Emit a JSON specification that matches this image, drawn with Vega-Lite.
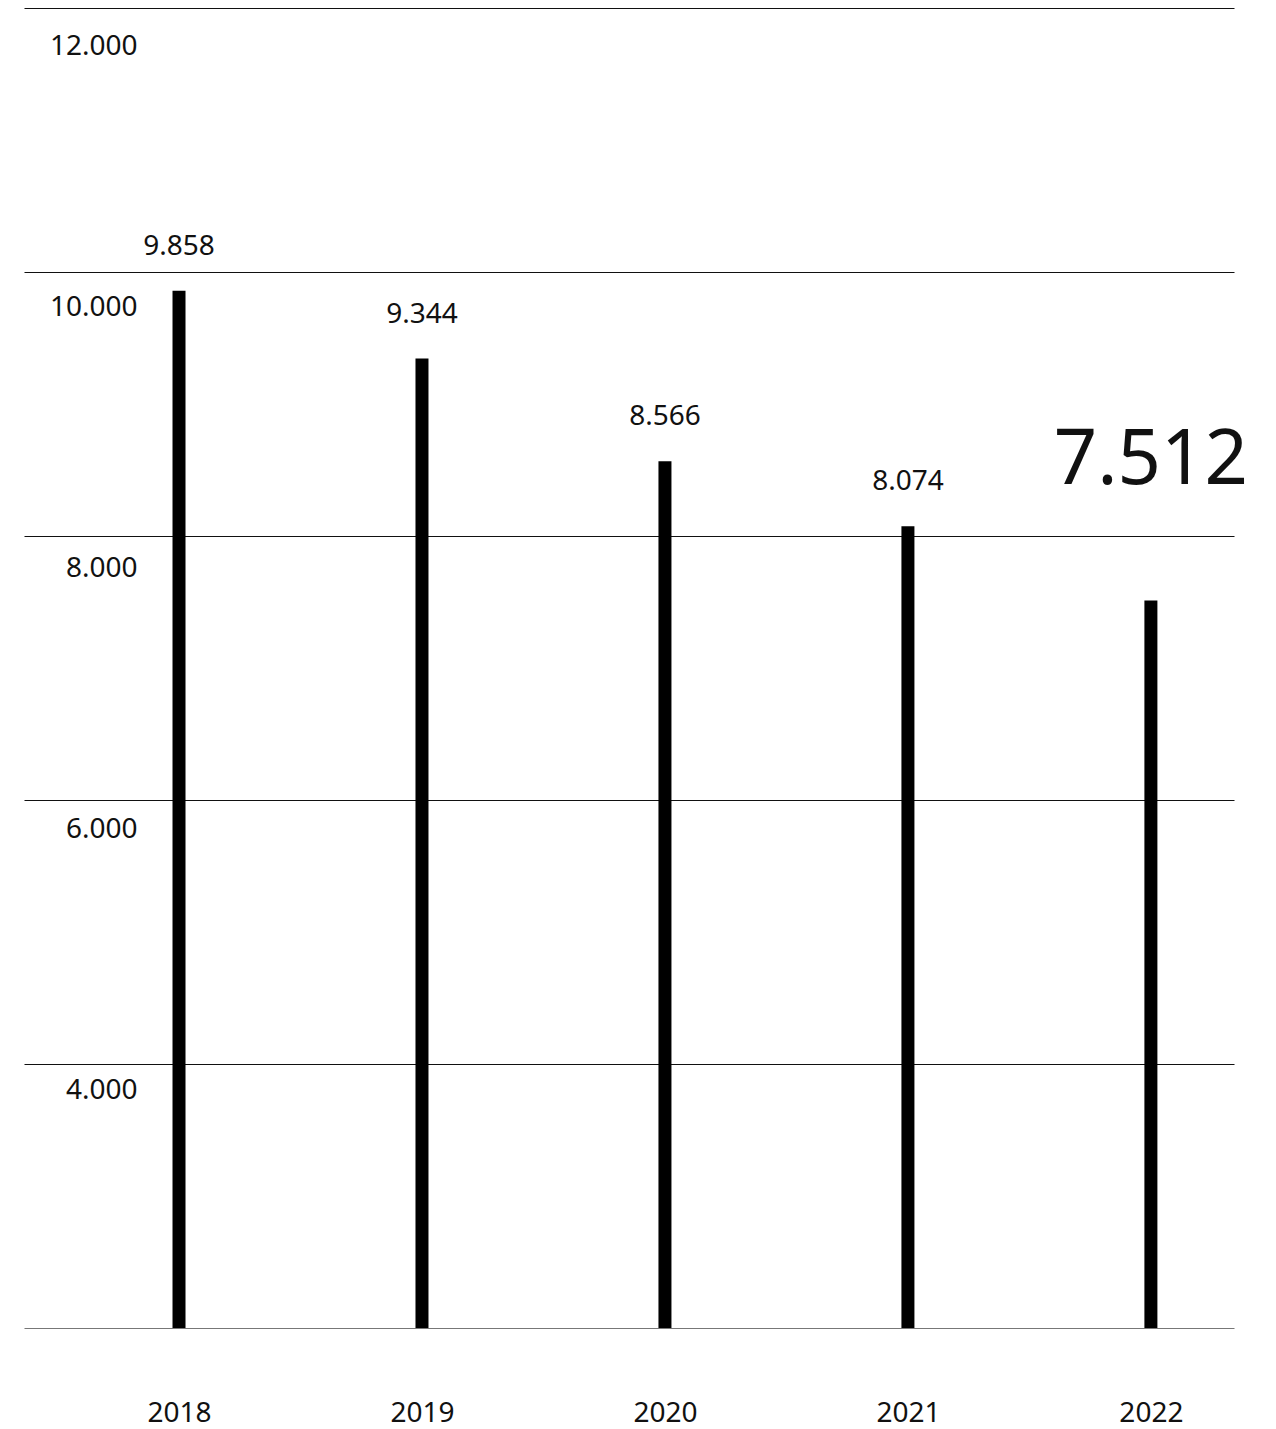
{
  "$schema": "https://vega.github.io/schema/vega-lite/v6.json",
  "width": 1210,
  "height": 1320,
  "autosize": "none",
  "padding": {"top": 8, "left": 24, "right": 42, "bottom": 101},
  "background": "white",
  "config": {
    "view": {"stroke": null},
    "font": "Noto Sans",
    "locale": {"number": {"decimal": ",", "thousands": ".", "grouping": [3], "currency": ["", " €"]}}
  },
  "data": {
    "values": [
      {"year": "2018", "value": 9858},
      {"year": "2019", "value": 9344},
      {"year": "2020", "value": 8566},
      {"year": "2021", "value": 8074},
      {"year": "2022", "value": 7512}
    ]
  },
  "encoding": {
    "x": {
      "field": "year",
      "type": "ordinal",
      "scale": {"type": "point", "padding": 0.49, "align": 0.651},
      "axis": {
        "title": null,
        "domain": false,
        "ticks": false,
        "tickSize": 0,
        "labelAngle": 0,
        "labelFont": "Noto Sans",
        "labelFontSize": 28,
        "labelColor": "#111",
        "labelBaseline": "alphabetic",
        "labelPadding": 93
      }
    },
    "y": {
      "field": "value",
      "type": "quantitative",
      "scale": {"domain": [2000, 12000], "zero": false, "nice": false},
      "axis": {
        "title": null,
        "domain": false,
        "ticks": false,
        "tickSize": 0,
        "values": [2000, 4000, 6000, 8000, 10000, 12000],
        "format": ",d",
        "labelExpr": "datum.value == 2000 ? '' : datum.label",
        "labelAlign": "right",
        "labelBaseline": "middle",
        "labelPadding": -113,
        "labelOffset": {"expr": "38 - (12000 - datum.value) / 2000 * 3"},
        "labelFont": "Noto Sans",
        "labelFontSize": 28,
        "labelColor": "#111",
        "grid": true,
        "gridColor": {"condition": {"test": "datum.value == 2000", "value": "#777777"}, "value": "#111111"},
        "gridWidth": 1.2
      }
    }
  },
  "layer": [
    {
      "mark": {"type": "rule", "strokeWidth": 13, "strokeCap": "butt", "color": "#000"},
      "encoding": {"y2": {"datum": 2000}}
    },
    {
      "transform": [{"filter": "datum.year != '2022'"}],
      "mark": {"type": "text", "baseline": "alphabetic", "align": "center", "dy": -36, "fontSize": 28, "font": "Noto Sans", "color": "#111"},
      "encoding": {"text": {"field": "value", "type": "quantitative", "format": ",d"}}
    },
    {
      "transform": [{"filter": "datum.year == '2022'"}],
      "mark": {"type": "text", "baseline": "alphabetic", "align": "center", "dy": -116, "fontSize": 76, "font": "Noto Sans", "color": "#111"},
      "encoding": {"text": {"field": "value", "type": "quantitative", "format": ",d"}}
    }
  ]
}
